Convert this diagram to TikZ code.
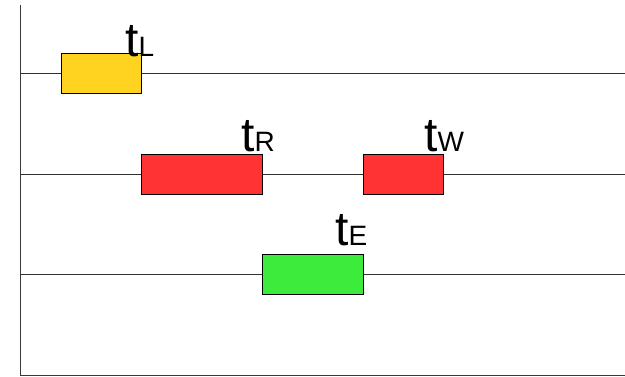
\documentclass[tikz,border=0pt]{standalone}
\usepackage{fontspec}
\setmainfont{Liberation Sans}
\definecolor{boxyellow}{HTML}{FFD320}
\definecolor{boxred}{HTML}{FF3333}
\definecolor{boxgreen}{HTML}{3DEB3D}
\definecolor{axisgray}{HTML}{3A3A3A}
\begin{document}
\begin{tikzpicture}[x=1pt,y=-1pt,
  tbox/.style={draw=black,line width=0.8pt,minimum height=40,inner sep=0pt,outer sep=0pt},
  track/.style={draw=black!80,line width=0.8pt},
  axisline/.style={draw=axisgray,line width=1.2pt},
  tlabel/.style={anchor=base west,inner sep=0pt,font=\fontsize{48}{48}\selectfont}]
\useasboundingbox (0,0) rectangle (625,377);
% axes
\coordinate (top) at (20.5,5);
\coordinate (origin) at (20.5,375.5);
\coordinate (right) at (625,375.5);
\draw[axisline] (top) -- (origin) -- (right);
% tracks
\coordinate (a1) at (20.5,73.5);
\coordinate (b1) at (625,73.5);
\coordinate (a2) at (20.5,174.5);
\coordinate (b2) at (625,174.5);
\coordinate (a3) at (20.5,274.5);
\coordinate (b3) at (625,274.5);
\draw[track] (a1) -- (b1);
\draw[track] (a2) -- (b2);
\draw[track] (a3) -- (b3);
% boxes
\node[tbox,fill=boxyellow,minimum width=80] (L) at (101,73.5) {};
\node[tbox,fill=boxred,minimum width=121] (R) at (201.5,174.5) {};
\node[tbox,fill=boxred,minimum width=80] (W) at (403,174.5) {};
\node[tbox,fill=boxgreen,minimum width=101] (E) at (312.5,274.5) {};
% labels
\node[tlabel] (tL) at (125,57) {t\fontsize{28}{28}\selectfont L};
\node[tlabel] (tR) at (241,152) {t\fontsize{28}{28}\selectfont R};
\node[tlabel] (tW) at (424,152) {t\fontsize{28}{28}\selectfont W};
\node[tlabel] (tE) at (335,246) {t\fontsize{28}{28}\selectfont E};
\end{tikzpicture}
\end{document}
